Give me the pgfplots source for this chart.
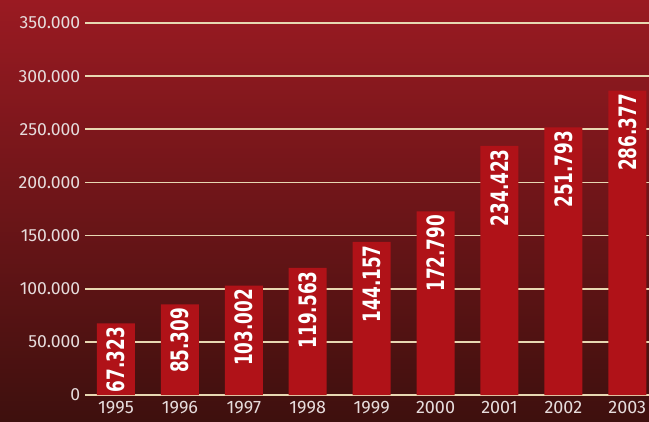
\documentclass[border=0pt]{standalone}
\usepackage{fontspec}
\setmainfont{Fira Sans}
\newfontfamily\barfont[FakeStretch=0.78]{DejaVu Sans Condensed}
\usepackage{pgfplots}
\pgfplotsset{compat=1.18}
\definecolor{bgtop}{HTML}{9A1A22}
\definecolor{bgmid}{HTML}{6C1315}
\definecolor{bgbot}{HTML}{3E100E}
\definecolor{gridc}{HTML}{E8D8B2}
\definecolor{barc}{HTML}{B01218}
\definecolor{tickc}{HTML}{E6DCDC}
\begin{document}
\begin{tikzpicture}
\shade[top color=bgtop, middle color=bgmid, bottom color=bgbot] (0pt,0pt) rectangle (486.75pt,315.75pt);
\begin{axis}[
  at={(63.75pt,19.5pt)}, anchor=south west,
  scale only axis, width=423pt, height=279pt,
  xmin=-0.485, xmax=8.34, ymin=0, ymax=350000,
  axis line style={draw=none},
  tick style={draw=none},
  ymajorgrids, grid style={color=gridc, line width=1.25pt},
  ytick distance=50000,
  scaled y ticks=false,
  /pgf/number format/assume math mode=true,
  /pgf/number format/fixed,
  /pgf/number format/precision=0,
  /pgf/number format/1000 sep={.},
  xtick=data,
  xticklabels={1995,1996,1997,1998,1999,2000,2001,2002,2003},
  yticklabel style={font=\fontsize{13.2}{15}\selectfont, color=tickc},
  xticklabel style={font=\fontsize{13.5}{15}\selectfont, color=tickc, inner sep=1pt, yshift=0.5pt},
  ybar, bar width=28.5pt,
  nodes near coords,
  nodes near coords style={rotate=90, anchor=east, inner sep=2.5pt, color=white,
     font=\barfont\bfseries\fontsize{18}{18}\selectfont},
]
\addplot[fill=barc, draw=none] coordinates {
 (0,67323) (1,85309) (2,103002) (3,119563) (4,144157)
 (5,172790) (6,234423) (7,251793) (8,286377)};
\end{axis}
\pgfresetboundingbox
\useasboundingbox (0pt,0pt) rectangle (486.75pt,315.75pt);
\end{tikzpicture}
\end{document}
